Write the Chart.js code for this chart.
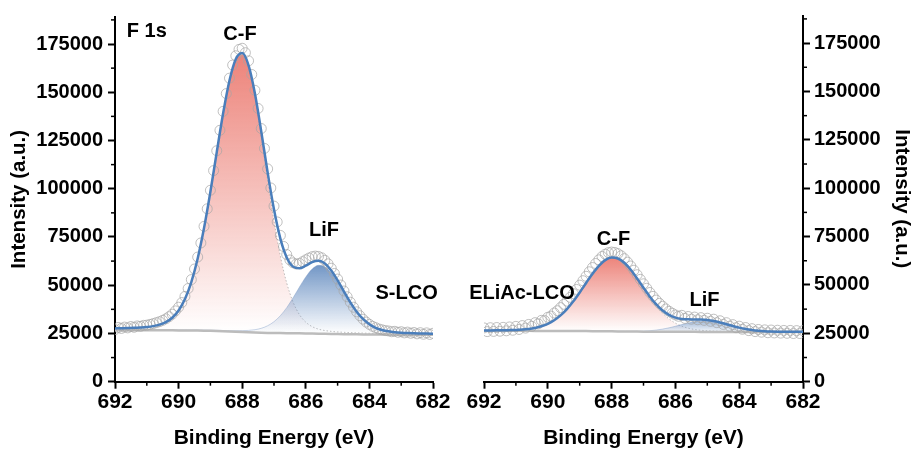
<!DOCTYPE html>
<html>
<head>
<meta charset="utf-8">
<script src="https://cdn.jsdelivr.net/npm/chart.js@4.4.1/dist/chart.umd.min.js"></script>
<style>
body{margin:0;background:#fff;}
#wrap{position:relative;width:916px;height:452px;}
.panel{position:absolute;top:0;width:458px;height:452px;}
</style>
</head>
<body>
<div id="wrap">
<div class="panel" style="left:0"><canvas id="left" width="458" height="452"></canvas></div>
<div class="panel" style="left:458px"><canvas id="right" width="458" height="452"></canvas></div>
</div>
<script>
const FONT="'Liberation Sans', Arial, Helvetica, sans-serif";
Chart.defaults.color='#000';
Chart.defaults.font.family=FONT;

// binding energy grids (eV)
const eFit=[692.0,691.8,691.6,691.4,691.2,691.0,690.8,690.6,690.4,690.2,690.0,689.8,689.6,689.4,689.2,689.0,688.8,688.6,688.4,688.2,688.0,687.8,687.6,687.4,687.2,687.0,686.8,686.6,686.4,686.2,686.0,685.8,685.6,685.4,685.2,685.0,684.8,684.6,684.4,684.2,684.0,683.8,683.6,683.4,683.2,683.0,682.8,682.6,682.4,682.2,682.0];
const eRaw=[692.0,691.9,691.8,691.7,691.6,691.5,691.4,691.3,691.2,691.1,691.0,690.9,690.8,690.7,690.6,690.5,690.4,690.3,690.2,690.1,690.0,689.9,689.8,689.7,689.6,689.5,689.4,689.3,689.2,689.1,689.0,688.9,688.8,688.7,688.6,688.5,688.4,688.3,688.2,688.1,688.0,687.9,687.8,687.7,687.6,687.5,687.4,687.3,687.2,687.1,687.0,686.9,686.8,686.7,686.6,686.5,686.4,686.3,686.2,686.1,686.0,685.9,685.8,685.7,685.6,685.5,685.4,685.3,685.2,685.1,685.0,684.9,684.8,684.7,684.6,684.5,684.4,684.3,684.2,684.1,684.0,683.9,683.8,683.7,683.6,683.5,683.4,683.3,683.2,683.1,683.0,682.9,682.8,682.7,682.6,682.5,682.4,682.3,682.2,682.1,682.0];

// S-LCO
const rawS=[27000,28100,27600,28300,27900,28600,28200,28900,28700,29200,29300,29700,30100,30600,31100,31800,32600,33700,35000,36700,38600,41000,44200,48300,52900,58400,64600,71900,80500,89600,99200,109400,119700,130300,140100,149300,157300,164100,168900,172200,172800,170500,166300,159200,151000,141600,131200,120900,110300,100400,91000,82800,75800,70100,65900,63100,61600,61000,61300,62200,63200,64100,64800,65100,64900,64200,62900,61100,58800,56100,53200,50100,47000,44000,41200,38600,36200,34200,32400,30900,29700,28700,28000,27300,26900,26500,26300,25900,26100,25600,25900,25300,25700,25100,25500,24800,25400,24600,25300,24500,25100];
const bgS=[26700,26700,26690,26680,26670,26660,26650,26640,26630,26610,26590,26570,26540,26500,26440,26360,26260,26140,26000,25860,25720,25590,25470,25370,25290,25230,25180,25140,25100,25060,25010,24950,24880,24810,24740,24680,24620,24570,24530,24500,24470,24450,24430,24410,24390,24370,24350,24330,24310,24290,24270];
const cfS=[27511,27594,27680,27782,27979,28237,28664,29408,30718,32970,36710,42630,51400,63600,79330,98100,118630,138720,155670,166680,169620,162990,147910,127290,104720,83310,65140,51160,41260,34785,30840,28540,27240,26510,26080,25800,25590,25424,25298,25194,25101,25026,24957,24894,24837,24783,24734,24686,24642,24600,24560];
const lifS=[26795,26800,26797,26794,26792,26792,26792,26793,26796,26790,26786,26785,26777,26762,26729,26678,26615,26541,26460,26429,26445,26585,26945,27679,28989,31103,34211,38383,43470,49030,54310,58380,60300,59550,56320,51400,45770,40280,35536,31820,29144,27370,26265,25611,25231,25007,24865,24756,24687,24627,24572];
const envS=[27606,27694,27787,27896,28101,28369,28806,29561,30884,33150,36906,42845,51637,63862,79619,98418,118985,139121,156130,167249,170345,163985,149385,129599,108419,89183,74171,64403,59630,58755,60140,61970,62660,61250,57660,52520,46740,41134,36304,32514,29775,27946,26792,26095,25678,25420,25249,25112,25019,24937,24862];

// ELiAc-LCO
const rawE=[27800,25900,27900,26000,28000,26100,28100,26300,28300,26600,28600,27000,29000,27700,29600,28600,30500,29900,31700,31600,33300,33900,35500,36700,38300,40000,41600,43600,45500,47700,49900,52200,54500,56800,59000,61100,63000,64700,65900,66700,67000,66800,66200,65100,63600,61800,59800,57600,55300,52900,50600,48300,46100,44100,42200,40500,39000,37600,36400,35400,34500,33800,34300,32700,33700,32300,33400,32000,33100,31700,32800,31200,32300,30500,31500,29600,30500,28700,29500,27900,28700,27100,28000,26400,27400,25900,27000,25600,26800,25300,26700,25200,26600,25100,26500,25000,26500,24900,26400,24900,26400];
const bgE=[26300,26296,26292,26288,26284,26280,26274,26268,26262,26256,26250,26240,26230,26216,26198,26176,26150,26120,26088,26054,26020,25988,25956,25926,25898,25872,25850,25832,25816,25802,25790,25780,25770,25760,25750,25740,25732,25724,25716,25708,25700,25694,25688,25682,25676,25670,25666,25662,25658,25654,25650];
const cfE=[26506,26523,26542,26565,26663,26774,26959,27275,27796,28626,29889,31722,34249,37522,41538,46135,51027,55786,59897,62833,64167,63669,61427,57777,53216,48277,43441,39068,35381,32459,30272,28721,27675,26998,26576,26317,26161,26064,25999,25946,25916,25891,25869,25848,25829,25811,25797,25784,25771,25760,25749];
const lifE=[26300,26296,26292,26288,26284,26280,26274,26268,26262,26256,26250,26240,26230,26216,26198,26176,26150,26120,26088,26056,26025,26001,25987,25994,26040,26149,26354,26691,27186,27845,28642,29504,30317,30955,31303,31293,30927,30271,29440,28560,27743,27064,26547,26186,25953,25812,25734,25693,25671,25659,25652];
const envE=[26506,26523,26542,26565,26663,26774,26959,27275,27796,28626,29889,31722,34249,37522,41538,46135,51027,55786,59897,62835,64172,63682,61458,57845,53358,48554,43945,39927,36751,34502,33124,32445,32222,32193,32129,31870,31356,30611,29723,28798,27959,27261,26728,26352,26106,25953,25865,25815,25784,25765,25751];

// axes
const xTicks=[692,690,688,686,684,682];
const xMinor=[691,689,687,685,683];
const yTicks=[0,25000,50000,75000,100000,125000,150000,175000];
const yMinor=[12500,37500,62500,87500,112500,137500,162500,187500];
const yMax=189000;

function pts(xs,ys){return xs.map((x,i)=>({x:x,y:ys[i]}));}

// vertical fade from the peak top down to the background
function grad(top,bottom,rgb,alpha){
 return function(c){
  let ch=c.chart;
  if(!ch.chartArea)return 'rgba('+rgb+',0.4)';
  let y=ch.scales.y;
  let g=ch.ctx.createLinearGradient(0,y.getPixelForValue(top),0,y.getPixelForValue(bottom));
  g.addColorStop(0,'rgba('+rgb+','+alpha+')');
  g.addColorStop(1,'rgba('+rgb+',0)');
  return g;
 };
}

function panelSets(raw,bg,cf,lif,env,cfTop,lifTop,lifAlpha){
 return [
  {label:'Raw',data:pts(eRaw,raw),showLine:false,pointRadius:5,pointBorderWidth:1,pointBorderColor:'rgba(165,165,165,0.7)',pointBackgroundColor:'rgba(255,255,255,0)',order:3},
  {label:'Fit',data:pts(eFit,env),borderColor:'#4a7ebb',borderWidth:2.5,pointRadius:0,cubicInterpolationMode:'monotone',fill:false,order:1},
  {label:'Background',data:pts(eFit,bg),borderColor:'#bcbcbc',borderWidth:2.5,pointRadius:0,fill:false,order:4},
  {label:'C-F',data:pts(eFit,cf),borderColor:'rgba(150,150,150,0.6)',borderWidth:1,borderDash:[1.5,2],pointRadius:0,cubicInterpolationMode:'monotone',fill:2,backgroundColor:grad(cfTop,26000,'235,120,110',0.92),order:6},
  {label:'LiF',data:pts(eFit,lif),borderColor:'rgba(120,150,195,0.4)',borderWidth:1,pointRadius:0,cubicInterpolationMode:'monotone',fill:2,backgroundColor:grad(lifTop,25000,'100,140,192',lifAlpha),order:5}
 ];
}

function scalesFor(side){
 return {
  x:{type:'linear',min:682,max:692,reverse:true,
   afterBuildTicks:s=>{s.ticks=xTicks.map(v=>({value:v}));},
   afterFit:s=>{s.height=70.3;},
   grid:{display:true,drawOnChartArea:false,drawTicks:true,tickLength:7,tickWidth:2,tickColor:'#000'},
   border:{display:true,color:'#000',width:2},
   ticks:{font:{size:21,weight:'bold'},padding:1,maxRotation:0,autoSkip:false,callback:v=>String(v)},
   title:{display:true,text:'Binding Energy (eV)',font:{size:21,weight:'bold'},padding:{top:0,bottom:1}}
  },
  y:{type:'linear',position:side,min:0,max:yMax,
   afterBuildTicks:s=>{s.ticks=yTicks.map(v=>({value:v}));},
   afterFit:s=>{s.width=side==='left'?115:113;},
   grid:{display:true,drawOnChartArea:false,drawTicks:true,tickLength:7,tickWidth:2,tickColor:'#000'},
   border:{display:true,color:'#000',width:2},
   ticks:{font:{size:20,weight:'bold'},padding:side==='left'?5:4,autoSkip:false,callback:v=>String(v)},
   title:{display:true,text:'Intensity (a.u.)',font:{size:20.5,weight:'bold'},padding:{top:side==='left'?7.4:1.7,bottom:0}}
  }
 };
}

// minor ticks + peak labels
const panelDecor={
 id:'panelDecor',
 afterDraw(chart,args,opts){
  const ctx=chart.ctx,x=chart.scales.x,y=chart.scales.y;
  ctx.save();
  ctx.strokeStyle='#000';ctx.lineWidth=1.5;
  xMinor.forEach(v=>{let p=x.getPixelForValue(v);ctx.beginPath();ctx.moveTo(p,x.top);ctx.lineTo(p,x.top+4);ctx.stroke();});
  let isLeft=y.position==='left',ax=isLeft?y.right:y.left;
  yMinor.forEach(v=>{let p=y.getPixelForValue(v);ctx.beginPath();ctx.moveTo(ax,p);ctx.lineTo(isLeft?ax-4:ax+4,p);ctx.stroke();});
  ctx.fillStyle='#000';ctx.font='bold 20px '+FONT;ctx.textBaseline='middle';
  (opts.notes||[]).forEach(n=>{ctx.textAlign=n.align||'center';ctx.fillText(n.text,x.getPixelForValue(n.x),y.getPixelForValue(n.y));});
  ctx.restore();
 }
};

const notesS=[{text:'F 1s',x:691.63,y:181700,align:'left'},{text:'C-F',x:688.07,y:180000},{text:'LiF',x:685.43,y:78400},{text:'S-LCO',x:682.83,y:45900}];
const notesE=[{text:'ELiAc-LCO',x:690.81,y:45650},{text:'C-F',x:687.94,y:73300},{text:'LiF',x:685.09,y:42100}];

function makeChart(id,sets,side,pad,notes){
 return new Chart(document.getElementById(id),{
  type:'line',
  data:{datasets:sets},
  options:{responsive:false,animation:false,
   layout:{padding:pad},
   scales:scalesFor(side),
   plugins:{legend:{display:false},tooltip:{enabled:false},panelDecor:{notes:notes}}
  },
  plugins:[panelDecor]
 });
}

makeChart('left',panelSets(rawS,bgS,cfS,lifS,envS,170000,61000,0.92),'left',{top:12,right:25,left:0,bottom:0},notesS);
makeChart('right',panelSets(rawE,bgE,cfE,lifE,envE,64500,31300,0.6),'right',{top:12,right:0,left:26,bottom:0},notesE);
</script>
</body>
</html>
